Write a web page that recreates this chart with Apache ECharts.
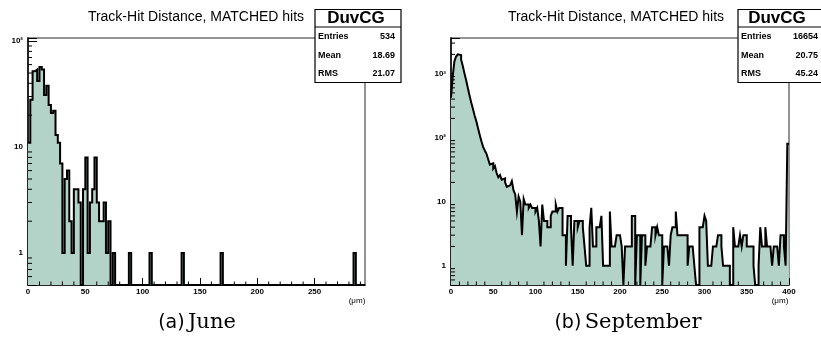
<!DOCTYPE html>
<html>
<head>
<meta charset="utf-8">
<script src="https://cdn.jsdelivr.net/npm/echarts@6/dist/echarts.min.js"></script>
<style>
  html, body { margin: 0; padding: 0; background: #fff; }
  #chart { width: 821px; height: 358px; }
</style>
</head>
<body>
<div id="chart"></div>
<script>
// bin width (um) and counts per bin
const binWidth = 2;
const juneCounts = [
  11, 28, 52, 54, 42, 57, 54, 31, 38, 25,
  21, 22, 13, 11, 7, 1, 5, 6, 2, 1,
  4, 4, 3, 0, 4, 8, 1, 3, 4, 8,
  3, 2, 2, 3, 1, 2, 0, 1, 0, 0,
  0, 0, 0, 0, 1, 0, 0, 0, 0, 0,
  0, 0, 0, 1, 0, 0, 0, 0, 0, 0,
  0, 0, 0, 0, 0, 0, 0, 1, 0, 0,
  0, 0, 0, 0, 0, 0, 0, 0, 0, 0,
  0, 0, 0, 0, 1, 0, 0, 0, 0, 0,
  0, 0, 0, 0, 0, 0, 0, 0, 0, 0,
  0, 0, 0, 0, 0, 0, 0, 0, 0, 0,
  0, 0, 0, 0, 0, 0, 0, 0, 0, 0,
  0, 0, 0, 0, 0, 0, 0, 0, 0, 0,
  0, 0, 0, 0, 0, 0, 0, 0, 0, 0,
  0, 0, 1, 0, 0, 0, 0
];
const septCounts = [
  420, 900, 1550, 1850, 2000, 1950, 1650, 1300, 1000, 780,
  590, 450, 350, 280, 220, 180, 140, 110, 88, 72,
  63, 56, 46, 38, 40, 33, 36, 28, 24, 26,
  22, 23, 20, 17, 18, 19, 21, 15, 13, 7,
  12, 10, 3, 11, 9, 9, 8, 9, 8, 8,
  7, 8, 5, 2, 9, 5,
  5, 4, 4, 6, 7, 7, 9, 7, 8, 8,
  3, 3, 1, 6, 6, 4, 1, 5, 5, 4,
  5, 5, 4, 2, 1, 1, 4, 8, 2, 2,
  4, 4, 4, 6, 1, 1, 1, 1, 7, 2,
  2, 2, 3, 3, 3, 2, 0, 2, 2, 2,
  2, 6, 6, 0, 3, 3, 0, 3, 3, 1,
  2, 2, 2, 4, 4, 3, 4, 3, 3, 0,
  2, 2, 2, 1, 3, 4, 4, 7, 3, 3,
  3, 3, 3, 3, 1, 2, 2, 2, 1, 0,
  0, 4, 4, 4, 6, 5, 1, 1, 1, 2,
  2, 2, 3, 3, 2, 1, 1, 1, 1, 0,
  0, 4, 2, 2, 2, 3, 2, 3, 3, 2,
  2, 2, 2, 1, 0, 0, 1, 4, 2, 2,
  4, 2, 2, 2, 1, 2, 2, 2, 1, 3,
  3, 2, 1, 80
];

const juneStats = [['Entries', '534'], ['Mean', '18.69'], ['RMS', '21.07']];
const septStats = [['Entries', '16654'], ['Mean', '20.75'], ['RMS', '45.24']];
const histTitle = 'Track-Hit Distance, MATCHED hits';
const statsTitle = 'DuvCG';
const captions = [['(a)', 'June'], ['(b)', 'September']];
const powerLabels = { 1: '1', 10: '10', 100: '10\u00b2', 1000: '10\u00b3' };

const xRanges = [[0, 294], [0, 400]];
const yRanges = [[0.5, 107], [0.5, 3600]];

const fillColor = '#b3d3c9';
const FONT = 'Liberation Sans, Arial, sans-serif';

function histPoints(counts, floor) {
  const pts = counts.map((c, i) => [i * binWidth, Math.max(c, floor)]);
  pts.push([counts.length * binWidth, Math.max(counts[counts.length - 1], floor)]);
  return pts;
}

function minorY(lo, hi) {
  const out = [];
  for (let p = -1; p <= 4; p++) {
    for (let m = 2; m <= 9; m++) {
      const v = m * Math.pow(10, p);
      if (v > lo && v < hi) out.push(+v.toPrecision(3));
    }
  }
  return out;
}
function minorX(lo, hi) {
  const out = [];
  for (let v = 10; v < hi; v += 10) if (v % 50 !== 0) out.push(v);
  return out;
}

const chart = echarts.init(document.getElementById('chart'), null, { renderer: 'canvas' });

const grids = [
  { left: 28, top: 38, width: 337, height: 247 },
  { left: 451, top: 38, width: 338, height: 247 }
];

function xAxisCfg(i) {
  return {
    type: 'value', gridIndex: i, min: xRanges[i][0], max: xRanges[i][1], interval: 50,
    axisLine: { lineStyle: { color: '#000', width: 1.5 } },
    axisTick: { inside: true, length: 7, lineStyle: { color: '#000', width: 1 } },
    axisLabel: {
      margin: 3, color: '#000', fontSize: 8, fontWeight: 'bold', fontFamily: FONT,
      showMaxLabel: i === 1
    },
    splitLine: { show: false }
  };
}
function yAxisCfg(i) {
  return {
    type: 'log', logBase: 10, gridIndex: i, min: yRanges[i][0], max: yRanges[i][1],
    axisLine: { lineStyle: { color: '#000', width: 1.5 } },
    axisTick: { inside: true, length: 9, lineStyle: { color: '#000', width: 1 } },
    axisLabel: {
      margin: 5, color: '#000', fontSize: 8, fontWeight: 'bold', fontFamily: FONT,
      formatter: v => {
        const r = Math.round(v);
        return powerLabels[r] && Math.abs(v - r) < 1e-6 ? powerLabels[r] : '';
      }
    },
    splitLine: { show: false }
  };
}

function histSeries(i, counts) {
  return {
    type: 'line', xAxisIndex: i, yAxisIndex: i, step: 'end', symbol: 'none',
    data: histPoints(counts, yRanges[i][0]),
    lineStyle: { color: '#000', width: 2, join: 'miter' },
    areaStyle: { color: fillColor, opacity: 1, origin: 'start' },
    silent: true, animation: false, z: 3
  };
}
function yMinorSeries(i) {
  return {
    type: 'custom', xAxisIndex: i, yAxisIndex: i, silent: true, animation: false, z: 4,
    data: minorY(yRanges[i][0], yRanges[i][1]).map(v => [xRanges[i][0], v]),
    renderItem: (params, api) => {
      const p = api.coord([api.value(0), api.value(1)]);
      return { type: 'line', shape: { x1: p[0], y1: p[1], x2: p[0] + 4, y2: p[1] },
        style: { stroke: '#000', lineWidth: 1 } };
    }
  };
}
function xMinorSeries(i) {
  return {
    type: 'custom', xAxisIndex: i, yAxisIndex: i, silent: true, animation: false, z: 4,
    data: minorX(xRanges[i][0], xRanges[i][1]).map(v => [v, yRanges[i][0]]),
    renderItem: (params, api) => {
      const p = api.coord([api.value(0), api.value(1)]);
      return { type: 'line', shape: { x1: p[0], y1: p[1], x2: p[0], y2: p[1] - 3.5 },
        style: { stroke: '#000', lineWidth: 1 } };
    }
  };
}

function statsBox(x, titleX, valueX, stats) {
  const els = [
    { type: 'rect', shape: { x: x, y: 9.5, width: 86, height: 73 },
      style: { fill: '#fff', stroke: '#000', lineWidth: 1.2 }, z: 10 },
    { type: 'line', shape: { x1: x, y1: 27, x2: x + 86, y2: 27 },
      style: { stroke: '#000', lineWidth: 1 }, z: 11 },
    { type: 'text', x: titleX, y: 18.5, z: 11,
      style: { text: statsTitle, fill: '#000', font: 'bold 17px ' + FONT, align: 'center', verticalAlign: 'middle' } }
  ];
  stats.forEach((s, j) => {
    const y = 36.5 + j * 18.7;
    els.push({ type: 'text', x: x + 3, y: y, z: 11,
      style: { text: s[0], fill: '#000', font: 'bold 9px ' + FONT, align: 'left', verticalAlign: 'middle' } });
    els.push({ type: 'text', x: valueX, y: y, z: 11,
      style: { text: s[1], fill: '#000', font: 'bold 9px ' + FONT, align: 'right', verticalAlign: 'middle' } });
  });
  return els;
}

function caption(cx, c) {
  return { type: 'text', x: cx, y: 323, z: 11,
    style: {
      text: '{a|' + c[0] + '} {b|' + c[1] + '}', align: 'center', verticalAlign: 'middle', fill: '#000',
      rich: {
        a: { fontFamily: 'DejaVu Sans', fontSize: 19, fill: '#000' },
        b: { fontFamily: 'DejaVu Serif', fontSize: 21, fill: '#000' }
      }
    } };
}

const graphics = []
  .concat(statsBox(315, 356, 395, juneStats))
  .concat(statsBox(738, 777, 818, septStats))
  .concat([
    { type: 'text', x: 196, y: 17, z: 11,
      style: { text: histTitle, fill: '#000', font: '14px ' + FONT, align: 'center', verticalAlign: 'middle' } },
    { type: 'text', x: 616, y: 17, z: 11,
      style: { text: histTitle, fill: '#000', font: '14px ' + FONT, align: 'center', verticalAlign: 'middle' } },
    { type: 'text', x: 357, y: 301, z: 11,
      style: { text: '(\u03bcm)', fill: '#000', font: '8px ' + FONT, align: 'center', verticalAlign: 'middle' } },
    { type: 'text', x: 780, y: 301, z: 11,
      style: { text: '(\u03bcm)', fill: '#000', font: '8px ' + FONT, align: 'center', verticalAlign: 'middle' } },
    caption(197, captions[0]),
    caption(628, captions[1])
  ]);

const option = {
  animation: false,
  backgroundColor: '#fff',
  grid: grids.map(g => Object.assign({ show: true, borderColor: '#707070', borderWidth: 1.5, backgroundColor: 'transparent' }, g)),
  xAxis: [xAxisCfg(0), xAxisCfg(1)],
  yAxis: [yAxisCfg(0), yAxisCfg(1)],
  series: [
    histSeries(0, juneCounts), histSeries(1, septCounts),
    yMinorSeries(0), yMinorSeries(1), xMinorSeries(0), xMinorSeries(1)
  ],
  graphic: graphics
};

chart.setOption(option);
</script>
</body>
</html>
